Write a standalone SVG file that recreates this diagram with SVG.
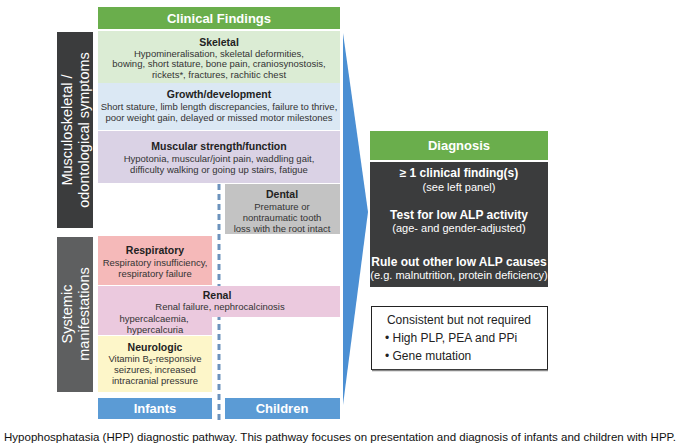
<svg xmlns="http://www.w3.org/2000/svg" width="682" height="447" viewBox="0 0 682 447">
<style>
text{font-family:"Liberation Sans",Arial,sans-serif}
.hd{font-size:13px;font-weight:bold;fill:#fff;text-anchor:middle}
.t{font-size:10.5px;font-weight:bold;fill:#222;text-anchor:middle}
.b{font-size:9.5px;fill:#333;text-anchor:middle}
.dw{font-size:12px;font-weight:bold;fill:#fff;text-anchor:middle}
.dn{font-size:11px;fill:#fff;text-anchor:middle}
.vl{font-size:14.5px;fill:#fff;text-anchor:middle}
.cn{font-size:12px;fill:#222}
</style>
<rect width="682" height="447" fill="#fff"/>
<g id="connectors">
<polygon points="343,33 368,212 343,405" fill="#4b8fd3"/>
<line x1="219" y1="184" x2="219" y2="421" stroke="#6d93bd" stroke-width="3" stroke-dasharray="6,4"/>
</g>
<g id="clinical-findings">
<rect x="98" y="7" width="242" height="22" fill="#6aae4c"/>
<text class="hd" x="219" y="23">Clinical Findings</text>
</g>
<g id="musculoskeletal-label">
<rect x="57" y="32" width="36" height="196" fill="#3b3c3d"/>
<text class="vl" transform="translate(72,130) rotate(-90)">Musculoskeletal /</text>
<text class="vl" transform="translate(88.5,130) rotate(-90)">odontological symptoms</text>
</g>
<g id="systemic-label">
<rect x="57" y="237" width="36" height="155" fill="#5e5f60"/>
<text class="vl" transform="translate(72,314) rotate(-90)">Systemic</text>
<text class="vl" transform="translate(88.5,314) rotate(-90)">manifestations</text>
</g>
<g id="skeletal">
<rect x="98" y="31" width="242" height="52" fill="#dbecd4"/>
<text class="t" x="219" y="46">Skeletal</text>
<text class="b" x="219" y="56.5">Hypomineralisation, skeletal deformities,</text>
<text class="b" x="219" y="67">bowing, short stature, bone pain, craniosynostosis,</text>
<text class="b" x="219" y="77.5">rickets*, fractures, rachitic chest</text>
</g>
<g id="growth">
<rect x="98" y="83" width="242" height="47" fill="#dbe8f4"/>
<text class="t" x="219" y="98">Growth/development</text>
<text class="b" x="219" y="109.5">Short stature, limb length discrepancies, failure to thrive,</text>
<text class="b" x="219" y="120.5">poor weight gain, delayed or missed motor milestones</text>
</g>
<g id="muscular">
<rect x="98" y="131" width="242" height="52" fill="#dad2e5"/>
<text class="t" x="219" y="150">Muscular strength/function</text>
<text class="b" x="219" y="161.5">Hypotonia, muscular/joint pain, waddling gait,</text>
<text class="b" x="219" y="173">difficulty walking or going up stairs, fatigue</text>
</g>
<g id="dental">
<rect x="225" y="184" width="115" height="50" fill="#c3c3c3"/>
<text class="t" x="282" y="198">Dental</text>
<text class="b" x="282" y="209.5">Premature or</text>
<text class="b" x="282" y="220.5">nontraumatic tooth</text>
<text class="b" x="282" y="231.5">loss with the root intact</text>
</g>
<g id="respiratory">
<rect x="98" y="236" width="114" height="49" fill="#f5b9b9"/>
<text class="t" x="155" y="254">Respiratory</text>
<text class="b" x="155" y="265.5">Respiratory insufficiency,</text>
<text class="b" x="155" y="276.5">respiratory failure</text>
</g>
<g id="renal">
<path d="M98,286 H340 V317 H212 V335 H98 Z" fill="#ebc9de"/>
<text class="t" x="217" y="299">Renal</text>
<text class="b" x="220" y="309.5">Renal failure, nephrocalcinosis</text>
<text class="b" x="154" y="321.5">hypercalcaemia,</text>
<text class="b" x="155" y="332.5">hypercalcuria</text>
</g>
<g id="neurologic">
<rect x="98" y="336" width="114" height="56" fill="#fdf6c9"/>
<text class="t" x="155" y="351">Neurologic</text>
<text class="b" x="155" y="361.5">Vitamin B<tspan font-size="6.5" dy="2">6</tspan><tspan dy="-2">-responsive</tspan></text>
<text class="b" x="155" y="372.5">seizures, increased</text>
<text class="b" x="155" y="384">intracranial pressure</text>
</g>
<g id="infants">
<rect x="98" y="398" width="114" height="21" fill="#5b9bd5"/>
<text class="hd" x="155" y="413">Infants</text>
</g>
<g id="children">
<rect x="225" y="398" width="115" height="21" fill="#5b9bd5"/>
<text class="hd" x="282" y="413">Children</text>
</g>
<g id="diagnosis">
<rect x="370" y="131" width="178" height="29" fill="#6aae4c"/>
<text class="hd" x="459" y="150">Diagnosis</text>
<rect x="370" y="162" width="178" height="125" fill="#3b3c3d"/>
<text class="dw" x="459" y="177">≥ 1 clinical finding(s)</text>
<text class="dn" x="459" y="191">(see left panel)</text>
<text class="dw" x="459" y="219">Test for low ALP activity</text>
<text class="dn" x="459" y="232">(age- and gender-adjusted)</text>
<text class="dw" x="459" y="266">Rule out other low ALP causes</text>
<text class="dn" x="459" y="279">(e.g. malnutrition, protein deficiency)</text>
</g>
<g id="consistent">
<rect x="371.5" y="306.5" width="176" height="63" fill="#fff" stroke="#222" stroke-width="1"/>
<line x1="372" y1="370.5" x2="548" y2="370.5" stroke="#888" stroke-width="1.5"/>
<text class="cn" x="459" y="324" text-anchor="middle">Consistent but not required</text>
<text class="cn" x="385" y="342">• High PLP, PEA and PPi</text>
<text class="cn" x="385" y="360">• Gene mutation</text>
</g>
<text x="4" y="441" font-size="11px" fill="#111" textLength="672" lengthAdjust="spacingAndGlyphs">Hypophosphatasia (HPP) diagnostic pathway. This pathway focuses on presentation and diagnosis of infants and children with HPP.</text>
</svg>
